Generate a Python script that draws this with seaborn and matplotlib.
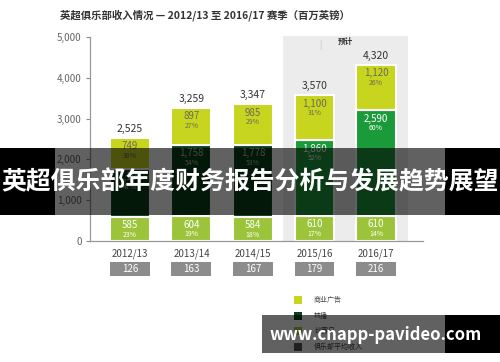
import matplotlib
matplotlib.use('Agg')
import matplotlib.pyplot as plt
from matplotlib.patches import Rectangle
import seaborn as sns

seasons = ['2012/13', '2013/14', '2014/15', '2015/16', '2016/17']
matchday = [585, 604, 584, 610, 610]
broadcast = [1191, 1758, 1778, 1860, 2590]
commercial = [749, 897, 985, 1100, 1120]
matchday_pct = ['23%', '19%', '18%', '17%', '14%']
broadcast_pct = ['47%', '54%', '53%', '52%', '60%']
commercial_pct = ['30%', '27%', '29%', '31%', '26%']
totals = ['2,525', '3,259', '3,347', '3,570', '4,320']
club_avg = ['126', '163', '167', '179', '216']
forecast = [False, False, False, True, True]

legend_labels = ['商业广告', '转播', '比赛日', '俱乐部平均收入']

C_MATCH = '#9cc43a'
C_BROAD = '#0c3f1b'
C_BROAD_F = '#1b9a3a'
C_COMM = '#c8d51e'
C_GREY = '#8c8c8c'

sns.set_style('white')
plt.rcParams['font.family'] = ['Noto Sans CJK SC', 'DejaVu Sans']

fig = plt.figure(figsize=(5, 3.62), dpi=100)
ax = fig.add_axes([0.18, 0.3343, 0.666, 0.5635])

# forecast shading
ax.add_patch(Rectangle((2.488, 0), 2.03, 5025, facecolor='#ececec',
                       edgecolor='none', zorder=0, clip_on=False))

bottom2 = matchday
bottom3 = [m + b for m, b in zip(matchday, broadcast)]
w = 0.65
kw = dict(width=w, saturation=1, errorbar=None, edgecolor='white',
          linewidth=1.5, ax=ax, zorder=2)
sns.barplot(x=seasons, y=matchday, color=C_MATCH, **kw)
sns.barplot(x=seasons, y=broadcast, bottom=bottom2, color=C_BROAD, **kw)
for i, p in enumerate(ax.containers[-1]):
    if forecast[i]:
        p.set_facecolor(C_BROAD_F)
sns.barplot(x=seasons, y=commercial, bottom=bottom3, color=C_COMM, **kw)


def seg_label(x, top, val, pct, col):
    ax.annotate(f'{val:,}', (x, top), xytext=(0, -6), textcoords='offset points',
                ha='center', va='center', fontsize=7, color=col, zorder=4)
    ax.annotate(pct, (x, top), xytext=(0, -13), textcoords='offset points',
                ha='center', va='center', fontsize=5, color=col, zorder=4)


for i in range(len(seasons)):
    seg_label(i, matchday[i], matchday[i], matchday_pct[i], 'white')
    seg_label(i, bottom3[i], broadcast[i], broadcast_pct[i],
              'white' if forecast[i] else '#a9c4a4')
    top = bottom3[i] + commercial[i]
    seg_label(i, top, commercial[i], commercial_pct[i], '#6b6b58')
    ax.annotate(totals[i], (i, top), xytext=(0, 6.5), textcoords='offset points',
                ha='center', va='center', fontsize=7.5, color='#333333')
    # club average box below axis
    ax.add_patch(Rectangle((i - w / 2, -0.172), w, 0.069, facecolor=C_GREY,
                           edgecolor='none', transform=ax.get_xaxis_transform(),
                           clip_on=False))
    ax.text(i, -0.1375, club_avg[i], transform=ax.get_xaxis_transform(),
            ha='center', va='center', fontsize=7, color='white')

ax.set_xlim(-0.65, 4.764)
ax.set_ylim(0, 5000)
ax.set_yticks([0, 1000, 2000, 3000, 4000, 5000])
ax.set_yticklabels(['0', '1,000', '2,000', '3,000', '4,000', '5,000'])
ax.tick_params(axis='y', left=True, length=3, width=0.8, color='#888888',
               labelsize=7, labelcolor='#666666', pad=3)
ax.tick_params(axis='x', bottom=False, labelsize=7, labelcolor='#444444', pad=2)
ax.set_xlabel('')
ax.set_ylabel('')
for s in ['top', 'right']:
    ax.spines[s].set_visible(False)
for s in ['left', 'bottom']:
    ax.spines[s].set_color('#999999')
    ax.spines[s].set_linewidth(0.9)

ax.text(3.1, 5000 * 0.985, '|', ha='center', va='top', fontsize=6, color='#bbbbbb')
ax.text(3.5, 4990, '预计', ha='center', va='top', fontsize=5.5,
        fontweight='bold', color='#333333')

fig.text(0.12, 0.958, '英超俱乐部收入情况 — 2012/13 至 2016/17 赛季（百万英镑）',
         ha='left', va='center', fontsize=7.5, fontweight='bold', color='#333333')

# legend
leg_colors = [C_COMM, C_BROAD, C_MATCH, '#555555']
for k, (lab, c) in enumerate(zip(legend_labels, leg_colors)):
    yc = 300 + k * 15.7
    fig.add_artist(Rectangle((294 / 500, 1 - (yc + 4) / 362), 8 / 500, 8 / 362,
                             transform=fig.transFigure, facecolor=c, edgecolor='none'))
    fig.text(314 / 500, 1 - yc / 362, lab, ha='left', va='center', fontsize=5,
             color='#444444')

# overlay banner
def band(x0, x1, y0, y1, alpha):
    fig.add_artist(Rectangle((x0 / 500, 1 - y1 / 362), (x1 - x0) / 500, (y1 - y0) / 362,
                             transform=fig.transFigure, facecolor='black',
                             edgecolor='none', alpha=alpha, zorder=5))


band(0, 55, 148, 215, 1)
band(55, 445, 148, 215, 0.62)
band(445, 500, 148, 215, 1)
fig.text(0.5, 1 - 182 / 362, '英超俱乐部年度财务报告分析与发展趋势展望', ha='center',
         va='center', fontsize=17.9, fontweight='bold', color='white', zorder=6)

band(262, 445, 315, 353, 0.62)
band(445, 500, 315, 353, 1)
fig.text(376 / 500, 1 - 335 / 362, 'www.cnapp-pavideo.com', ha='center',
         va='center', fontsize=12, fontweight='bold', color='white', zorder=6)

fig.savefig('out.png', dpi=100)
